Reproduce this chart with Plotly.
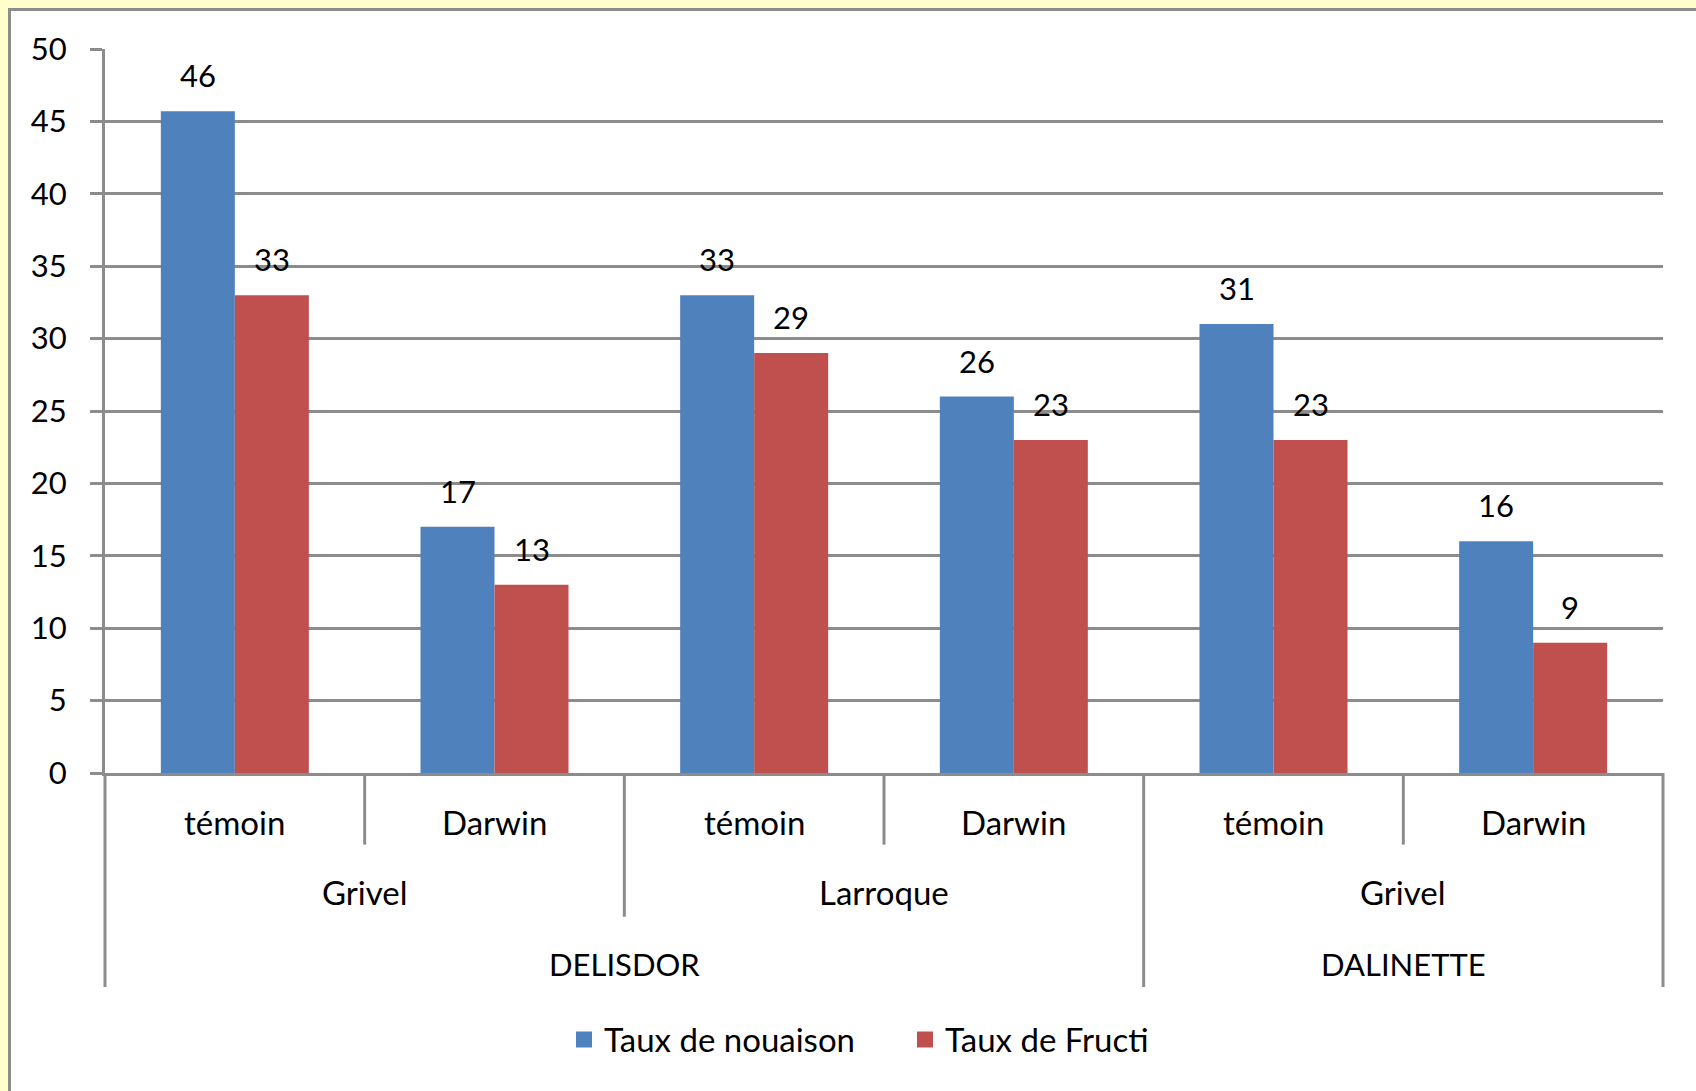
import plotly.graph_objects as go

variety = ["DELISDOR", "DELISDOR", "DELISDOR", "DELISDOR", "DALINETTE", "DALINETTE"]
site = ["Grivel", "Grivel", "Larroque", "Larroque", "Grivel", "Grivel"]
treatment = ["témoin", "Darwin", "témoin", "Darwin", "témoin", "Darwin"]
nouaison = [45.7, 17, 33, 26, 31, 16]
fructi = [33, 13, 29, 23, 23, 9]
series_names = ["Taux de nouaison", "Taux de Fructi"]

BLUE = "#4F81BD"
RED = "#C0504D"
GRAY = "#8C8C8C"
FONT = "Lato"
FS = 31      # numbers and upper-case labels
FS_TXT = 33  # mixed-case labels
BARGAP = 0.43

n = len(treatment)
xpos = list(range(n))

fig = go.Figure()
for name, vals, col in [(series_names[0], nouaison, BLUE), (series_names[1], fructi, RED)]:
    fig.add_trace(go.Bar(x=xpos, y=vals, name=name, marker=dict(color=col, line=dict(width=0)),
                         showlegend=False))
    # legend entry with bigger square
    fig.add_trace(go.Scatter(x=[None], y=[None], mode="markers", name=name,
                             marker=dict(symbol="square", size=20, color=col)))

# value labels above bars
off = (1 - BARGAP) / 4
for sign, vals in [(-1, nouaison), (1, fructi)]:
    for i, v in enumerate(vals):
        fig.add_annotation(x=i + sign * off, y=v, xref="x", yref="y", text=f"{v:.0f}",
                           showarrow=False, yanchor="middle", yshift=36,
                           font=dict(size=FS, color="black", family=FONT))


def runs(labels, parent=None):
    out = []
    start = 0
    for i in range(1, n + 1):
        if i == n or labels[i] != labels[start] or (parent and parent[i] != parent[start]):
            out.append((labels[start], start, i - 1))
            start = i
    return out


# hierarchical category labels
label_y = [-0.0677, -0.1644, -0.2638]
for i, t in enumerate(treatment):
    fig.add_annotation(x=i, y=label_y[0], xref="x", yref="paper", text=t, showarrow=False,
                       yanchor="middle", font=dict(size=FS_TXT, color="black", family=FONT))
for lab, a, b in runs(site, variety):
    fig.add_annotation(x=(a + b) / 2, y=label_y[1], xref="x", yref="paper", text=lab, showarrow=False,
                       yanchor="middle", font=dict(size=FS_TXT, color="black", family=FONT))
for lab, a, b in runs(variety):
    fig.add_annotation(x=(a + b) / 2, y=label_y[2], xref="x", yref="paper", text=lab, showarrow=False,
                       yanchor="middle", font=dict(size=FS, color="black", family=FONT))

# divider lines below the axis
depth = {"short": -0.0989, "mid": -0.1985, "full": -0.2956}
for k in range(n + 1):
    if k == 0 or k == n or variety[k] != variety[k - 1]:
        d = depth["full"]
    elif site[k] != site[k - 1]:
        d = depth["mid"]
    else:
        d = depth["short"]
    fig.add_shape(type="line", xref="paper", yref="paper", x0=k / n, x1=k / n, y0=0, y1=d,
                  line=dict(color=GRAY, width=3))

# white panel with gray border on yellow page
L, T, W, H = 105, 49, 1558, 724
fig.add_shape(type="rect", xref="paper", yref="paper", layer="below",
              x0=(9.5 - L) / W, x1=(1760 - L) / W, y0=(T + H - 1150) / H, y1=(T + H - 9.5) / H,
              fillcolor="white", line=dict(color=GRAY, width=3))

fig.update_layout(
    width=1696, height=1091,
    margin=dict(l=L, r=1696 - L - W, t=T, b=1091 - T - H),
    paper_bgcolor="#FFFFCC", plot_bgcolor="white",
    bargap=BARGAP, bargroupgap=0, barmode="group",
    font=dict(family=FONT, size=FS, color="black"),
    legend=dict(orientation="h", x=(564 - L) / W, xanchor="left", y=-0.368, yanchor="middle",
                entrywidth=296, font=dict(size=FS_TXT, family=FONT), bgcolor="rgba(0,0,0,0)"),
    xaxis=dict(range=[-0.5, n - 0.5], showgrid=False, showticklabels=False, ticks="",
               showline=True, linecolor=GRAY, linewidth=3, zeroline=False, fixedrange=True),
    yaxis=dict(range=[0, 50], dtick=5, showgrid=True, gridcolor=GRAY, gridwidth=3,
               ticks="outside", ticklen=12, tickwidth=3, tickcolor=GRAY,
               showline=True, linecolor=GRAY, linewidth=3, zeroline=False,
               tickfont=dict(size=FS, family=FONT), ticklabelstandoff=17),
)

fig.write_html("out.html", config={"displayModeBar": False},
               post_script="document.body.style.margin='0';document.body.style.background='#FFFFCC';")
